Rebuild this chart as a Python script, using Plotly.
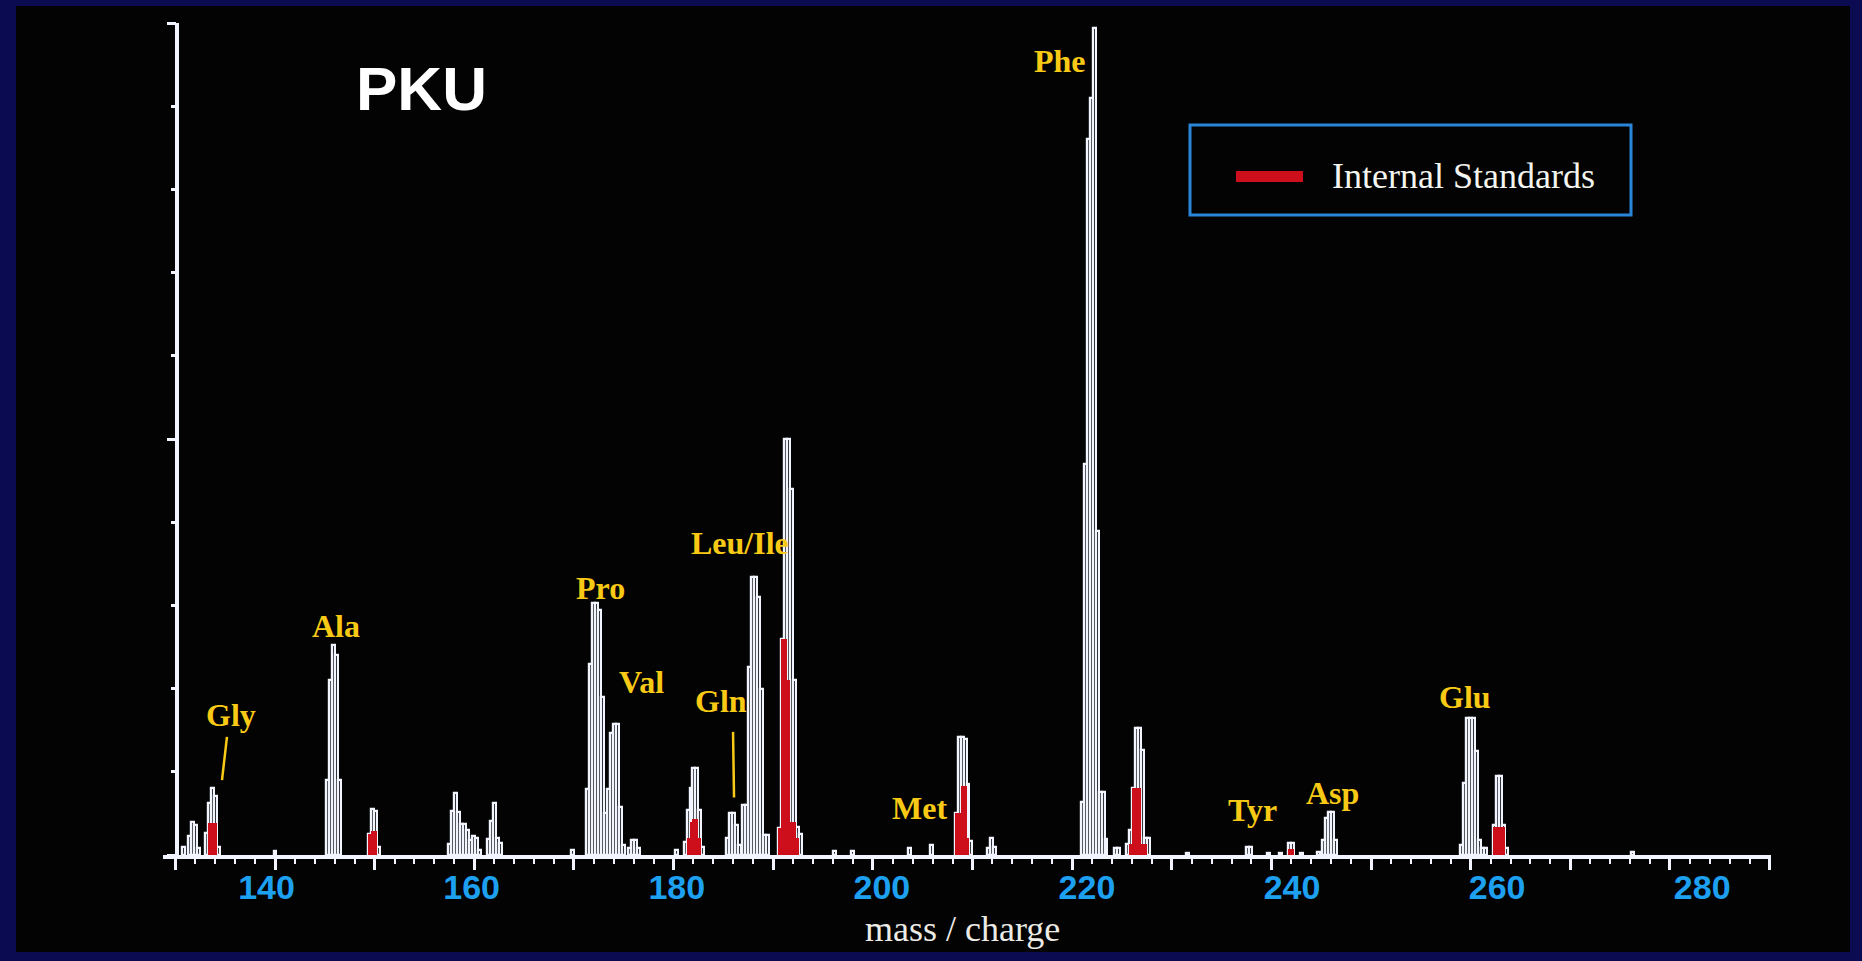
import plotly.graph_objects as go

# ---------------- data ----------------
# total ion profile (m/z sample centre, relative intensity %)
spectrum_mz = [
    130.8,
    131.45, 131.75, 132.05, 132.35,
    133.15, 133.45, 133.75, 134.05, 134.35,
    140.0,
    145.3, 145.6, 145.9, 146.2, 146.5,
    149.45, 149.75, 150.05, 150.35,
    157.5, 157.8, 158.1, 158.4, 158.7, 159.0, 159.3, 159.6, 159.9, 160.2, 160.5,
    161.45, 161.75, 162.05, 162.35, 162.65,
    169.9,
    171.4, 171.7, 172.0, 172.3, 172.6, 172.9, 173.2,
    173.5, 173.8, 174.1, 174.4, 174.7, 175.0,
    175.6, 175.9, 176.2, 176.5,
    180.3,
    181.15, 181.45, 181.75, 182.05, 182.35, 182.65, 182.95,
    185.45, 185.75, 186.05, 186.35, 186.65,
    187.05, 187.35, 187.65, 187.95, 188.25, 188.55, 188.85, 189.15, 189.45,
    190.65, 190.95, 191.25, 191.55, 191.85, 192.15, 192.45, 192.75,
    196.2, 198.0, 203.7, 205.9,
    208.35, 208.65, 208.95, 209.25, 209.55, 209.85,
    211.65, 211.95, 212.25,
    221.0, 221.3, 221.6, 221.9, 222.2, 222.5, 222.8, 223.1, 223.4,
    224.4, 224.7,
    225.6, 225.9, 226.2, 226.5, 226.8, 227.1, 227.4, 227.7,
    231.6,
    237.65, 237.95,
    239.7, 240.9,
    241.8, 242.1,
    243.0, 244.7,
    245.2, 245.5, 245.8, 246.1, 246.4,
    259.05, 259.35, 259.65, 259.95, 260.25, 260.55, 260.85, 261.15, 261.45,
    262.4, 262.7, 263.0, 263.3, 263.6,
    276.2,
]
spectrum_intensity = [
    1.0,
    2.3, 4.0, 3.6, 0.8,
    2.7, 6.3, 8.0, 7.1, 1.0,
    0.5,
    9.0, 21.0, 25.3, 24.0, 9.0,
    2.5, 5.5, 5.3, 1.0,
    1.3, 5.3, 7.5, 5.2, 3.7, 3.7, 3.0, 1.8, 2.3, 2.0, 0.6,
    1.9, 4.1, 6.3, 2.0, 1.5,
    0.6,
    7.9, 23.0, 30.3, 30.3, 29.5, 19.0, 5.0,
    7.9, 14.7, 15.7, 15.7, 5.8, 1.2,
    0.8, 1.8, 1.8, 0.8,
    0.6,
    1.6, 5.4, 8.0, 10.5, 10.5, 5.4, 1.0,
    2.0, 5.0, 5.0, 3.6, 1.2,
    6.0, 6.0, 22.6, 33.4, 33.4, 31.0, 20.0, 2.4, 2.4,
    3.2, 26.0, 50.0, 50.0, 44.0, 21.0, 3.4, 2.5,
    0.5, 0.5, 0.9, 1.2,
    5.1, 14.2, 14.2, 14.0, 8.5, 1.7,
    0.8, 2.0, 1.0,
    6.4, 47.0, 86.0, 91.0, 99.4, 39.0, 7.6, 7.6, 1.9,
    0.8, 0.8,
    1.3, 3.0, 8.0, 15.3, 15.3, 12.6, 2.1, 2.1,
    0.3,
    1.0, 1.0,
    0.3, 0.3,
    1.4, 1.4,
    0.3, 0.4,
    1.8, 4.4, 5.2, 5.2, 1.8,
    1.2, 8.6, 16.5, 16.5, 16.5, 12.5, 1.8, 0.8, 0.8,
    3.6, 9.5, 9.5, 3.6, 0.8,
    0.4,
]

# internal standards contribution (red)
standard_mz = [
    133.45, 133.75, 134.05,
    149.45, 149.75, 150.05,
    181.45, 181.75, 182.05, 182.35, 182.65,
    190.65, 190.95, 191.25, 191.55, 191.85, 192.15, 192.45,
    208.35, 208.65, 208.95, 209.25, 209.55,
    225.9, 226.2, 226.5, 226.8, 227.1, 227.4,
    241.8, 242.1,
    262.4, 262.7, 263.0, 263.3,
]
standard_intensity = [
    3.8, 3.8, 3.8,
    2.5, 2.9, 2.9,
    2.0, 4.0, 4.3, 4.3, 2.0,
    3.2, 26.0, 26.0, 21.0, 4.0, 4.0, 2.0,
    5.1, 5.1, 8.3, 8.3, 2.0,
    1.3, 8.1, 8.1, 8.1, 1.3, 1.3,
    0.7, 0.7,
    3.4, 3.4, 3.4, 3.4,
]

# amino-acid labels (text, m/z, height of label)
label_names = ["Gly", "Ala", "Pro", "Val", "Gln", "Leu/Ile", "Met", "Phe", "Tyr", "Asp", "Glu"]
label_mz = [135.58, 146.12, 172.62, 176.83, 184.76, 186.67, 204.73, 218.78, 238.15, 246.18, 259.43]
label_height = [16.8, 27.5, 32.1, 20.8, 18.5, 37.5, 5.6, 95.4, 5.4, 7.5, 19.0]

# pointer lines (x0, y0, x1, y1) for Gly and Gln
pointer_lines = [
    (135.18, 14.2, 134.68, 9.0),
    (185.97, 14.8, 186.07, 6.9),
]

tick_values = [140, 160, 180, 200, 220, 240, 260, 280]

# ---------------- styles ----------------
WHITE = "#F2F5FF"
RED = "#CC0F1A"
YELLOW = "#F8C915"
BLUE = "#1EA0F0"
BOX_BLUE = "#2A86D8"
NAVY = "#0B0B52"
BLACK = "#020302"

W, H = 1862, 961
L, R, T, B = 163, 91, 23, 106
plot_w = W - L - R
plot_h = H - T - B


def px_x(p):
    return (p - L) / plot_w


def px_y(p):
    return (H - B - p) / plot_h


fig = go.Figure()

fig.add_trace(go.Bar(
    x=spectrum_mz, y=spectrum_intensity, width=0.3,
    marker=dict(color="rgba(0,0,0,0)", line=dict(color=WHITE, width=2.2)),
    showlegend=False,
))
fig.add_trace(go.Bar(
    x=standard_mz, y=standard_intensity, width=0.3,
    marker=dict(color=RED, line=dict(width=0)),
    showlegend=False, hoverinfo="skip",
))
# empty trace so the label axis is created
fig.add_trace(go.Scatter(x=[None], y=[None], xaxis="x2", yaxis="y",
                         showlegend=False, hoverinfo="skip"))

annotations = []
for name, mx, hy in zip(label_names, label_mz, label_height):
    annotations.append(dict(
        x=mx, y=hy, xref="x", yref="y", text=name, showarrow=False,
        font=dict(family="Liberation Serif", size=32, color=YELLOW, weight="bold"),
        xanchor="center", yanchor="middle",
    ))

annotations += [
    dict(x=px_x(421), y=px_y(88), xref="paper", yref="paper", text="PKU",
         showarrow=False, xanchor="center", yanchor="middle",
         font=dict(family="Liberation Sans", size=62, color="#FFFFFF", weight="bold")),
    dict(x=px_x(962), y=px_y(929), xref="paper", yref="paper", text="mass / charge",
         showarrow=False, xanchor="center", yanchor="middle",
         font=dict(family="Liberation Serif", size=36, color="#EDEBE6")),
    dict(x=px_x(1330), y=px_y(176), xref="paper", yref="paper", text="Internal Standards",
         showarrow=False, xanchor="left", yanchor="middle",
         font=dict(family="Liberation Serif", size=36, color="#F4F4F0")),
]

shapes = [
    # black screen area
    dict(type="rect", xref="paper", yref="paper", layer="below",
         x0=px_x(16), x1=px_x(1850), y0=px_y(952), y1=px_y(6),
         fillcolor=BLACK, line=dict(width=0)),
    # legend box
    dict(type="rect", xref="paper", yref="paper",
         x0=px_x(1190), x1=px_x(1631), y0=px_y(215), y1=px_y(125),
         fillcolor="rgba(0,0,0,0)", line=dict(color=BOX_BLUE, width=3)),
    dict(type="rect", xref="paper", yref="paper",
         x0=px_x(1236), x1=px_x(1303), y0=px_y(182), y1=px_y(171),
         fillcolor=RED, line=dict(width=0)),
]
for x0, y0, x1, y1 in pointer_lines:
    shapes.append(dict(type="line", xref="x", yref="y", x0=x0, y0=y0, x1=x1, y1=y1,
                       line=dict(color=YELLOW, width=2.5)))

x_range = [128.76, 290.14]
y_axis_pos = (130.2 - x_range[0]) / (x_range[1] - x_range[0])

fig.update_layout(
    width=W, height=H,
    margin=dict(l=L, r=R, t=T, b=B, pad=0),
    paper_bgcolor=NAVY, plot_bgcolor=BLACK,
    barmode="overlay", bargap=0,
    showlegend=False,
    annotations=annotations, shapes=shapes,
    xaxis=dict(
        range=x_range, showgrid=False, zeroline=False,
        showline=True, linecolor=WHITE, linewidth=4,
        ticks="outside", tick0=0, dtick=10, ticklen=11, tickwidth=2.5, tickcolor=WHITE,
        minor=dict(ticks="outside", dtick=2, ticklen=5, tickwidth=2, tickcolor=WHITE),
        showticklabels=False,
    ),
    xaxis2=dict(
        range=[129.9, 286.71], overlaying="x", anchor="y", side="bottom",
        showgrid=False, zeroline=False, showline=False, ticks="",
        tickvals=tick_values, ticktext=[str(v) for v in tick_values],
        tickfont=dict(family="Liberation Sans", size=34, color=BLUE, weight="bold"),
        ticklabelstandoff=9,
    ),
    yaxis=dict(
        range=[0, 100], showgrid=False, zeroline=False,
        anchor="free", position=y_axis_pos,
        showline=True, linecolor=WHITE, linewidth=3.5,
        ticks="outside", tick0=0, dtick=50, ticklen=9, tickwidth=3, tickcolor=WHITE,
        minor=dict(ticks="outside", dtick=10, ticklen=5, tickwidth=2.5, tickcolor=WHITE),
        showticklabels=False,
    ),
)

fig.write_html("out.html")
